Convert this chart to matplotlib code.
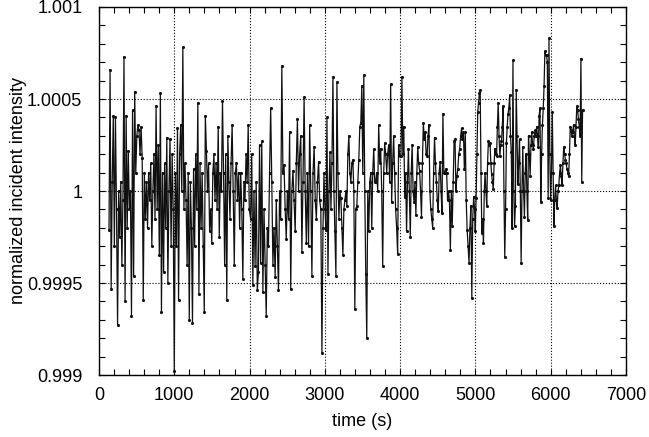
import numpy as np
import matplotlib
matplotlib.use('Agg')
from matplotlib import pyplot as plt
from matplotlib.ticker import MultipleLocator, FuncFormatter

# deviations from 1, in units of 1e-5 in six stretches
dev_a = [-21, 66, -53, 5, 41, -30, 40, -10, -73, 0, -25, 5, -40, -5, 73, -60, 41, -20, 22, -10,
         0, -68, 44, -46, 54, 10, 30, 36, 33, 20, 35, 18, -59, 10, -15, 5, -20, 10, -5, 15,
         -30, 0, 20, -15, 46, -10, 25, -35, 53, -66, 10, -44, 15, -20, 29, -50, 0, 28, -30, 20,
         -10, -98]
dev_b = [10, -30, 34, -59, 20, 36, 0, 78, -10, 15, -5, -40, 10, -70, 5, -20, -72, 12, -30, 20,
         -10, 48, -56, 15, -20, 10, -30, -66, 41, 22, 0, 15, -22, -10, -28, 10, 20, -5, 15, -10,
         35, -25, 10, 0, 49, 10, -40, 20, -59, 30, 5, -15, 15, 36, 0, -40, 10, 15, -5, 10,
         -20, 10, -10, -48, 5, -5, 20, 5, 36, -10]
dev_c = [-15, 20, -51, 0, -41, 5, -54, -44, 25, -39,
         27, -55, -10, -40, -68, -20, -30, 10, 45, 5, -40, -20, -47, -5, -30, -54, 0, -15, 68, 10,
         14, -10, -26, 0, -15, 32, -53, 0, 11, -5, -22, 15, 39, 0, 20, 30, -33, 5, 51, 0,
         -28, 10, -30, 36, 0, -46, 10, 24, -5, -15, 5, 16, -5, -10, -88]
dev_d = [-20, 10, -10, -21, 40, -45, 0, 21, -10, 15, 62, 0, -22, -46, 59, 10, -15, 0, -4, -20,
         -35, -10, -5, 0, -8, 20, 30, 10, 5, 15, 17, 0, -64, -10, -8, 5, 17, 35, 37, 57,
         10, 63, 0, -45, -80, 0, -22, 5, 10, -20, 10, 23, 5, 5, 10, 0, 36, 15, 23, 0,
         -41, 10, 26, 20, 10, 20, 25, 5, 58, -6, 15, 30, 10, -10, -20, -34, 25, 19]
dev_e = [19, 62, 20, 35, -3, 10, -22, 5, 23, 0, -25, 10, 25, 0, -6, 5, -13, 10, 24, 15,
         11, 0, -14, 15, 37, 28, 32, 20, 19, 30, 36, 0, -10, -15, -20, 10, 29, 15, 5, -5,
         -11, 10, 16, 0, -12, 42,
         10, 10, 12, 10, -5, 0, -5, -32, 0, -19, 5, 27, 28, 0, 8, 12, 20, 23, 30, 34,
         28, 32, 12, 32, -5, -21, -30, -39, -20, -8, -58, -15, -3, -10]
dev_f = [-22, -4, 20, 43, 48, 53, 55, 10, -23, -15, -28, 0, 10, 0, -8, 15, 27, 25, 26, 15,
         9, 5, 1, 15, 23, 20, 19, 35, 48, 30, 19, 25, 27, 35, 46, 0, -36, -10, 26, 35,
         42, 45, 52, 30, 21, -20, 71, 0, -19, -8, 55, 30, 4, 15, 28, 0, -39, 0, 24, 0,
         -14, 10, 20, 0, -16, 30, 20, 8, 25, 32, 25, 23, 30, 33, 30, 35, 30, 24, 41, 45,
         -6, 20, 36, 45, 57, 76, 74, 74, 70, -4, 83, 20, -5, 10, 43, 10, -19, -5, 3, -5,
         -9, 0, 3, 10, 14, 8, 3, 15, 24, 20, 17, 15, 12, 10, 8, 20, 35, 33, 30, 32,
         36, 30, 25, 35, 46, 44, 39, 35, 30, 72, 5, 44]

# start / end time (s) of each stretch
spans = [(133, 1000), (1014, 1996), (2014, 2961), (2975, 3993), (4011, 4989), (4998, 6423)]
stretches = [dev_a, dev_b, dev_c, dev_d, dev_e, dev_f]

t = np.concatenate([np.linspace(a, b, len(d)) for (a, b), d in zip(spans, stretches)])
intensity = 1 + np.concatenate([np.array(d, float) for d in stretches]) * 1e-5

plt.rcParams['font.family'] = ['Liberation Sans', 'DejaVu Sans']

fig = plt.figure(figsize=(6.49, 4.37), dpi=100)
ax = fig.add_axes([99 / 649, 1 - 375 / 437, 527 / 649, 368 / 437])

ax.plot(t, intensity, color='#111111', lw=0.9, marker='.', ms=2.5)

ax.set_xlim(0, 7000)
ax.set_ylim(0.999, 1.001)
ax.xaxis.set_major_locator(MultipleLocator(1000))
ax.xaxis.set_minor_locator(MultipleLocator(200))
ax.yaxis.set_major_locator(MultipleLocator(0.0005))
ax.yaxis.set_minor_locator(MultipleLocator(0.0001))
ax.yaxis.set_major_formatter(FuncFormatter(lambda v, p: '%g' % v))

ax.tick_params(which='both', direction='in', top=True, right=True, labelsize=13, width=0.8, length=4)
ax.tick_params(axis='x', pad=9)
ax.tick_params(axis='y', pad=12)
ax.grid(True, which='major', linestyle=':', color='black', linewidth=0.8)
for s in ax.spines.values():
    s.set_linewidth(1.0)

ax.set_xlabel('time (s)', fontsize=13, labelpad=6)
ax.set_ylabel('normalized incident intensity', fontsize=13, labelpad=0)

fig.savefig('out.png', dpi=100)
